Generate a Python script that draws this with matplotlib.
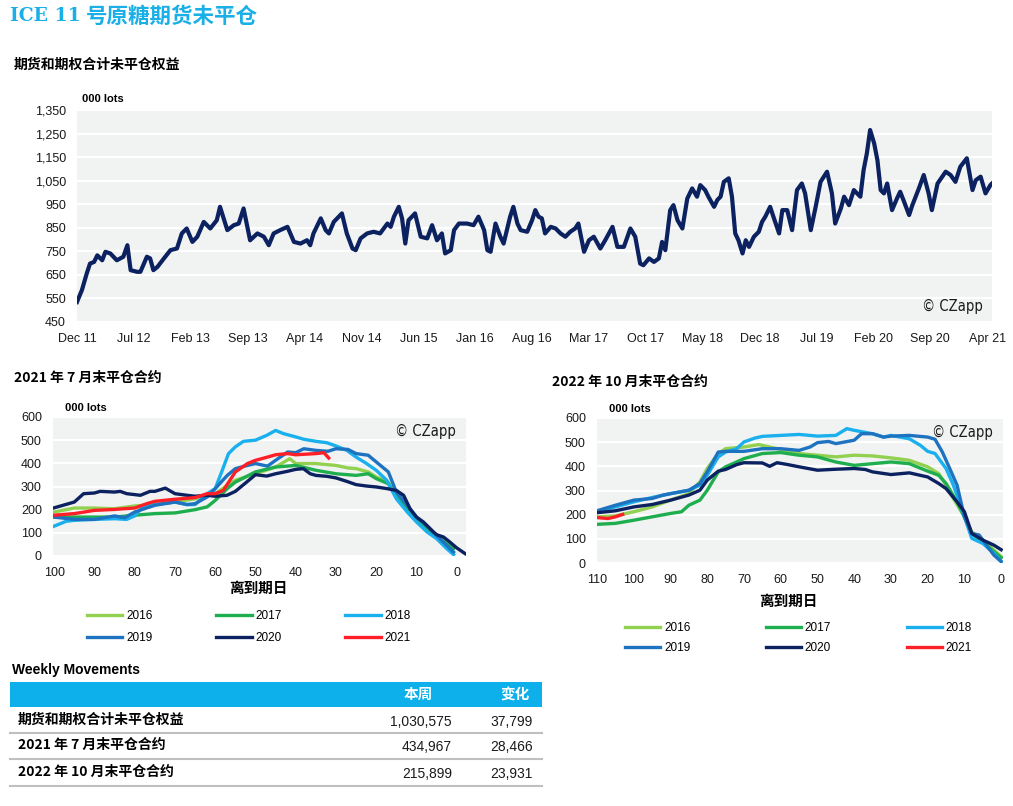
import matplotlib
matplotlib.use("Agg")
import matplotlib.pyplot as plt
from matplotlib.patches import Rectangle

plt.rcParams['font.family'] = ['Liberation Sans', 'Noto Sans CJK SC', 'DejaVu Sans']

W, H = 1013, 806

# ---------------- data ----------------
# total open interest, months since Dec 2011, thousand lots
oi_months = [0, 0.6, 1.2, 1.6, 2.1, 2.5, 3.1, 3.5, 4.1, 4.9, 5.7, 6.2, 6.6, 7.4, 7.8, 8.6, 9.0, 9.4, 9.9,
             10.7, 11.5, 12.3, 12.9, 13.5, 14.2, 14.8, 15.6, 16.4, 17.2, 17.6, 18.5, 19.3, 19.9, 20.5, 21.3,
             22.2, 23.0, 23.6, 24.2, 25.0, 25.9, 26.7, 27.5, 28.3, 28.7, 29.1, 30.0, 30.6, 31.0, 31.6, 32.6,
             33.2, 33.9, 34.3, 34.9, 35.7, 36.5, 37.3, 38.2, 38.6, 39.0, 39.6, 40.0, 40.4, 40.8, 41.6, 42.3,
             43.1, 43.7, 44.3, 44.9, 45.3, 46.0, 46.4, 47.0, 48.0, 48.8, 49.4, 50.1, 50.5, 50.9, 51.5, 52.1,
             52.5, 52.9, 53.3, 53.7, 54.2, 54.6, 55.4, 56.0, 56.4, 56.8, 57.2, 57.6, 58.3, 58.9, 59.5, 60.1,
             60.7, 61.3, 61.7, 62.4, 63.0, 63.6, 64.4, 65.0, 65.9, 66.5, 67.3, 68.1, 68.7, 69.3, 69.7, 70.4,
             71.0, 71.6, 72.0, 72.4, 73.0, 73.4, 73.9, 74.5, 75.1, 75.7, 76.3, 76.7, 77.3, 77.7, 78.4, 78.8,
             79.2, 79.6, 80.2, 80.6, 81.0, 81.4, 81.9, 82.3, 82.7, 83.3, 83.9, 84.3, 84.7, 85.3, 85.7, 86.4,
             86.8, 87.4, 88.0, 88.6, 89.2, 89.6, 90.3, 90.9, 91.5, 92.3, 92.9, 93.3, 94.0, 94.4, 95.0, 95.6,
             96.4, 96.8, 97.2, 97.6, 98.1, 98.5, 98.9, 99.3, 99.7, 100.3, 100.9, 101.3, 101.7, 102.4, 102.8,
             103.6, 104.2, 104.8, 105.2, 105.9, 106.9, 107.5, 108.1, 108.7, 109.5, 110.2, 110.6, 111.2,
             111.8, 112.4, 112.6]
oi_values = [535, 585, 656, 698, 705, 733, 712, 748, 741, 712, 727, 776, 670, 663, 663, 727, 720, 670, 684,
             720, 755, 762, 826, 847, 790, 812, 875, 847, 882, 939, 840, 861, 868, 932, 797,
             826, 812, 776, 826, 840, 854, 790, 783, 797, 776, 826, 890, 840, 826, 875, 911,
             826, 762, 755, 805, 826, 833, 826, 868, 854, 897, 939, 890, 783, 882, 911, 812,
             805, 861, 797, 826, 741, 755, 840, 868, 868, 861, 897, 840, 755, 748, 868, 812,
             783, 840, 897, 939, 868, 840, 833, 882, 925, 897, 890, 826, 854, 847, 826, 812,
             833, 847, 868, 748, 797, 812, 762, 797, 854, 769, 769, 847, 812, 698, 691, 720,
             705, 720, 790, 755, 925, 946, 882, 847, 974, 1017, 982, 1031, 1010, 982, 939, 968,
             982, 1045, 1060, 982, 826, 797, 741, 797, 769, 812, 833, 875, 897, 939, 897, 826,
             925, 925, 840, 1010, 1038, 996, 840, 939, 1045, 1088, 996, 868, 932, 982, 946, 1010,
             982, 1095, 1166, 1265, 1208, 1137, 1010, 996, 1038, 925, 974, 1003, 968, 904, 946,
             1017, 1074, 996, 925, 1038, 1088, 1074, 1045, 1109, 1145, 1010, 1052, 1067,
             996, 1031, 1038]
oi_tick_labels = ['Dec 11', 'Jul 12', 'Feb 13', 'Sep 13', 'Apr 14', 'Nov 14', 'Jun 15', 'Jan 16',
                  'Aug 16', 'Mar 17', 'Oct 17', 'May 18', 'Dec 18', 'Jul 19', 'Feb 20', 'Sep 20', 'Apr 21']

years = ['2016', '2017', '2018', '2019', '2020', '2021']
colors = ['#92D050', '#1EAE4E', '#1AB0EE', '#1E73C0', '#0B2160', '#FF1F26']

# July 2021 contract: days to expiry / open interest
jul_days = {
    '2016': [100, 95, 90, 85, 80, 75, 70, 65, 60, 57, 55, 50, 45, 41.5, 40, 35, 30, 27, 25, 22, 20, 17, 15,
             10, 5, 0.8],
    '2017': [100, 95, 90, 85, 80, 75, 70, 65, 62, 60, 57, 55, 50, 45, 40, 35, 30, 25, 22, 20, 17, 15, 10,
             5, 0.8],
    '2018': [100, 97, 95, 90, 85, 82, 80, 78, 75, 70, 67, 65, 62, 60, 58.4, 56.7, 55, 53, 50, 47.2, 45, 43,
             40, 38, 35, 32.3, 30, 27.3, 25, 22.4, 20, 17.4, 15, 12.3, 10, 7.4, 5, 2.5, 0.8],
    '2019': [100, 95, 90, 85, 82.5, 80, 75, 70, 67, 65, 62, 60, 57, 55, 52, 50, 47, 45, 42, 40, 38, 35, 32,
             30, 27, 25, 22, 20, 17, 15, 12, 10, 7.5, 5, 2.5, 0.8],
    '2020': [100.2, 95, 92.7, 90, 88.6, 85, 83.6, 82, 80, 78.6, 76.2, 75, 72.4, 70, 67, 65, 62.1, 60, 57.1,
             55, 52.2, 50, 47.2, 45, 42.2, 40, 38.1, 36.4, 35, 32.3, 30, 27.3, 25, 22.4, 20, 17.4, 15,
             13.2, 11.6, 10, 8.3, 5.8, 5, 3.3, 1.7, 0, -2.1],
    '2021': [100, 95, 90, 85, 80, 77, 75, 70, 65, 62, 60, 58, 55, 52, 50, 47, 45, 42, 40, 35, 33, 31.8],
}
jul_values = {
    '2016': [190, 207, 207, 204, 216, 222, 233, 247, 269, 305, 327, 355, 384, 420, 399, 399, 391, 380, 377,
             363, 341, 319, 262, 161, 89, 39],
    '2017': [168, 168, 168, 168, 176, 183, 186, 200, 212, 240, 291, 319, 363, 384, 391, 370, 355, 348, 355,
             334, 312, 255, 154, 82, 32],
    '2018': [129, 150, 154, 158, 161, 158, 173, 212, 222, 233, 222, 222, 269, 291, 363, 442, 471, 495, 500,
             521, 542, 528, 514, 504, 495, 489, 475, 456, 427, 399, 370, 327, 247, 190, 147, 104, 75, 32, 6],
    '2019': [168, 158, 158, 173, 165, 190, 219, 233, 222, 226, 255, 291, 348, 377, 391, 399, 388, 413, 449,
             446, 463, 456, 452, 463, 460, 442, 435, 406, 363, 276, 212, 168, 132, 89, 46, 17],
    '2020': [207, 233, 269, 272, 279, 276, 279, 269, 265, 262, 279, 279, 293, 269, 262, 258, 262, 258, 262,
             279, 319, 351, 345, 355, 365, 374, 377, 355, 348, 344, 337, 322, 308, 302, 298, 291, 283,
             262, 204, 168, 147, 104, 92, 82, 60, 35, 10],
    '2021': [176, 183, 197, 201, 207, 226, 236, 245, 252, 269, 269, 283, 363, 399, 413, 427, 437, 442, 437,
             442, 446, 423],
}

# October 2022 contract
oct_days = {
    '2016': [110, 105, 100, 95, 90, 85, 82, 80, 77, 75, 70, 66, 63, 60, 55, 50, 45, 40, 35, 30, 25, 20, 17,
             15, 13, 10, 8, 5, 2, 0],
    '2017': [110, 105, 100, 95, 90, 87, 85, 82, 80, 77, 75, 72, 70, 65, 60, 55, 50, 45, 40, 35, 30, 25, 20,
             17, 15, 12, 10, 8, 5, 2, 0],
    '2018': [110, 105, 100, 95, 90, 85, 82, 80, 77, 75, 72, 70, 67, 65, 60, 55, 50, 45, 42, 40, 35, 32, 30,
             25, 22, 20, 18, 15, 13, 10, 8, 5, 2, 0],
    '2019': [110, 105, 100, 95, 92, 90, 85, 82, 80, 77, 75, 70, 65, 60, 55, 52, 50, 47, 45, 40, 38, 35, 32,
             30, 25, 20, 18, 16, 14, 12, 10, 8, 6, 4, 2, 0],
    '2020': [110, 105, 100, 95, 90, 85, 82, 80, 77, 75, 72, 70, 65, 63, 61, 58, 55, 50, 45, 40, 37, 35, 30,
             25, 20, 17, 15, 12, 10, 8, 5, 2, 0],
    '2021': [110, 107, 105, 103],
}
oct_values = {
    '2016': [191, 195, 212, 232, 260, 287, 336, 391, 453, 473, 480, 490, 480, 470, 453, 446, 439, 446, 443,
             435, 425, 398, 370, 322, 267, 191, 129, 95, 54, 26],
    '2017': [160, 164, 177, 191, 205, 212, 239, 260, 301, 377, 398, 418, 432, 453, 457, 446, 439, 418, 404,
             411, 418, 411, 380, 363, 329, 253, 191, 122, 88, 47, 22],
    '2018': [212, 232, 253, 271, 287, 301, 322, 363, 439, 459, 473, 501, 517, 524, 528, 532, 525, 528, 556,
             549, 535, 521, 528, 514, 487, 462, 453, 391, 322, 191, 102, 81, 40, 6],
    '2019': [216, 239, 260, 267, 281, 287, 301, 329, 377, 459, 462, 462, 473, 473, 466, 480, 498, 503, 494,
             508, 535, 535, 521, 525, 528, 521, 512, 459, 391, 322, 191, 122, 116, 74, 33, 6],
    '2020': [208, 216, 232, 242, 260, 281, 301, 343, 380, 387, 407, 415, 414, 400, 415, 407, 398, 384, 388,
             391, 387, 377, 366, 373, 356, 329, 308, 253, 212, 122, 95, 74, 55],
    '2021': [188, 184, 191, 201],
}

table_rows = ['期货和期权合计未平仓权益', '2021 年 7 月末平仓合约', '2022 年 10 月末平仓合约']
table_this_week = ['1,030,575', '434,967', '215,899']
table_change = ['37,799', '28,466', '23,931']

BG = '#F1F2F2'
NAVY = '#0B2160'
CJK = ['Noto Sans CJK SC', 'DejaVu Sans']


def px_axes(fig, left, top, right, bottom):
    return fig.add_axes([left / W, 1 - bottom / H, (right - left) / W, (bottom - top) / H])


def style_axes(ax):
    ax.set_facecolor(BG)
    for s in ax.spines.values():
        s.set_visible(False)
    ax.grid(axis='y', color='white', linewidth=1.6)
    ax.set_axisbelow(True)
    ax.tick_params(length=0, labelsize=9, colors='#1a1a1a', pad=8)


def czapp(ax, x, y, va):
    ax.text(x, y, '© CZapp', transform=ax.transAxes, fontsize=10.5, ha='right', va=va,
            family='DejaVu Sans', fontstretch='condensed', color='#1a1a1a')


fig = plt.figure(figsize=(W / 100, H / 100), dpi=100)

# overlay for free text and the table, in pixel coordinates
ov = fig.add_axes([0, 0, 1, 1])
ov.set_xlim(0, W)
ov.set_ylim(H, 0)
ov.axis('off')

ov.text(10, 16, 'ICE 11', family='DejaVu Serif', fontsize=13.5, fontweight='bold',
        color='#1AAFE6', va='center', ha='left')
ov.text(86, 16, '号原糖期货未平仓', family=CJK, fontsize=15.5, fontweight='bold',
        color='#1AAFE6', va='center', ha='left')
ov.text(14, 65, '期货和期权合计未平仓权益', family=CJK, fontsize=10, fontweight='bold', va='center')

# ---------------- top chart ----------------
ax1 = px_axes(fig, 77, 110, 992, 322)
style_axes(ax1)
ax1.plot(oi_months, oi_values, color=NAVY, linewidth=3.0, solid_joinstyle='round')
ax1.set_xlim(0, 112.6)
ax1.set_ylim(450, 1350)
ax1.set_yticks(range(450, 1351, 100))
ax1.set_yticklabels([f'{v:,}' for v in range(450, 1351, 100)])
ax1.set_xticks(range(0, 113, 7))
ax1.set_xticklabels(oi_tick_labels)
ax1.text(0.005, 1.03, '000 lots', transform=ax1.transAxes, fontsize=8, fontweight='bold', va='bottom')
czapp(ax1, 0.99, 0.04, 'bottom')


def contract_chart(box, days, values, xmax, xmin, ticks, title, title_xy, label_xy, leg_xy, colsp, lsp):
    ax = px_axes(fig, *box)
    style_axes(ax)
    for yr, col in zip(years, colors):
        ax.plot(days[yr], values[yr], color=col, linewidth=2.4, label=yr,
                zorder=3 if yr == '2021' else 2)
    ax.set_xlim(xmax, xmin)
    ax.set_ylim(0, 600)
    ax.set_yticks(range(0, 601, 100))
    ax.set_xticks(ticks)
    ax.text(0.03, 1.03, '000 lots', transform=ax.transAxes, fontsize=8, fontweight='bold', va='bottom')
    czapp(ax, 0.975, 0.95, 'top')
    ov.text(title_xy[0], title_xy[1], title, family=CJK, fontsize=10, fontweight='bold', va='center')
    ov.text(label_xy[0], label_xy[1], '离到期日', family=CJK, fontsize=10.5, fontweight='bold',
            ha='center', va='center')
    handles, labels = ax.get_legend_handles_labels()
    order = [0, 3, 1, 4, 2, 5]
    fig.legend([handles[i] for i in order], [labels[i] for i in order], ncol=3, frameon=False,
               loc='upper left', bbox_to_anchor=(leg_xy[0] / W, 1 - leg_xy[1] / H),
               borderpad=0, borderaxespad=0, handlelength=3.0, handletextpad=0.3,
               columnspacing=colsp, labelspacing=lsp, fontsize=8.5)
    return ax


contract_chart((53, 417, 466, 556), jul_days, jul_values, 100.3, -2.3, range(100, -1, -10),
               '2021 年 7 月末平仓合约', (14, 378), (258, 588), (87, 610), 5.4, 0.85)
contract_chart((597, 418, 1003, 563), oct_days, oct_values, 110, -0.5, range(110, -1, -10),
               '2022 年 10 月末平仓合约', (552, 382), (788, 601), (625, 622), 6.4, 0.65)

# ---------------- weekly movements table ----------------
ov.text(12, 670, 'Weekly Movements', fontsize=10, fontweight='bold', va='center')
ov.add_patch(Rectangle((10, 682), 532, 25, facecolor='#0DB0EA', edgecolor='none'))
ov.text(418, 694, '本周', family=CJK, fontsize=10.5, fontweight='bold', color='white',
        ha='center', va='center')
ov.text(515, 694, '变化', family=CJK, fontsize=10.5, fontweight='bold', color='white',
        ha='center', va='center')
row_y = [720, 745, 772]
line_y = [733, 759, 786]
for lab, a, b, ry, ly in zip(table_rows, table_this_week, table_change, row_y, line_y):
    ov.text(18, ry, lab, family=CJK, fontsize=10, fontweight='bold', va='center')
    ov.text(452, ry + 2, a, fontsize=10, ha='right', va='center', color='#1a1a1a')
    ov.text(533, ry + 2, b, fontsize=10, ha='right', va='center', color='#1a1a1a')
    ov.plot([10, 542], [ly, ly], color='#BFBFBF', linewidth=1.5)

fig.savefig('out.png', dpi=100)
